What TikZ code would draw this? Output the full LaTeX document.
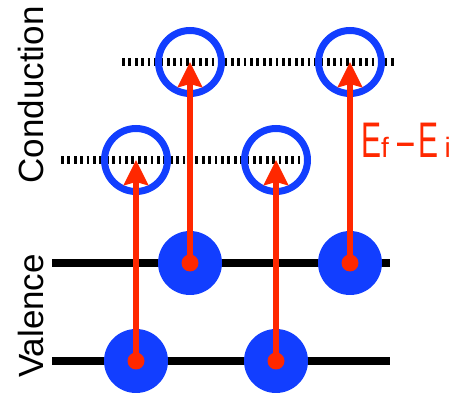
\documentclass[tikz,border=0pt]{standalone}
\usepackage{fontspec}
\setmainfont{Liberation Sans}
\newfontfamily\gapfont[FakeStretch=0.6]{Liberation Sans}
\usetikzlibrary{arrows.meta}
\definecolor{holeblue}{RGB}{18,62,255}
\definecolor{photonred}{RGB}{255,40,0}
\tikzset{
  band/.style={line width=8pt, black},
  level/.style={line width=8pt, black, dash pattern=on 2.7pt off 3.7pt},
  hole/.style={circle, draw=holeblue, line width=7pt, minimum size=63pt, inner sep=0pt},
  electron/.style={circle, fill=holeblue, minimum size=64pt, inner sep=0pt},
  origin/.style={circle, fill=photonred, minimum size=17pt, inner sep=0pt},
  excite/.style={photonred, line width=6pt, -{Stealth[length=25pt,width=24pt,inset=3pt]}},
  axislabel/.style={font=\fontsize{35}{35}\selectfont, rotate=90, anchor=base, inner sep=0pt}
}
\begin{document}
\begin{tikzpicture}[x=1pt,y=1pt]
\useasboundingbox (0,0) rectangle (475,394);

% valence band levels
\coordinate (v1a) at (52,131);  \coordinate (v1b) at (390,131);
\coordinate (v2a) at (52,33);   \coordinate (v2b) at (390,33);
\draw[band] (v1a) -- (v1b);
\draw[band] (v2a) -- (v2b);

% conduction band levels
\coordinate (c1a) at (122,332); \coordinate (c1b) at (397,332);
\coordinate (c2a) at (61,234);  \coordinate (c2b) at (300,234);
\draw[level] (c1a) -- (c1b);
\draw[level] (c2a) -- (c2b);

% empty states in the conduction band
\node[hole] (hA) at (136,234) {};
\node[hole] (hB) at (190,332) {};
\node[hole] (hC) at (276,234) {};
\node[hole] (hD) at (350,332) {};

% filled states in the valence band
\node[electron] (eA) at (136,33) {};
\node[electron] (eB) at (190,131) {};
\node[electron] (eC) at (276,33) {};
\node[electron] (eD) at (350,131) {};

% transition start points
\node[origin] (oA) at (eA.center) {};
\node[origin] (oB) at (eB.center) {};
\node[origin] (oC) at (eC.center) {};
\node[origin] (oD) at (eD.center) {};

% excitations
\draw[excite] (oA.center) -- (hA.center);
\draw[excite] (oB.center) -- (hB.center);
\draw[excite] (oC.center) -- (hC.center);
\draw[excite] (oD.center) -- (hD.center);

% energy gap label
\node[anchor=base west, inner sep=0pt, text=photonred] (gap) at (361,236)
  {{\gapfont\fontsize{50}{50}\selectfont E}{\fontsize{28}{28}\selectfont f}\kern9pt
   {\gapfont\fontsize{50}{50}\selectfont \char"2013\kern4pt E}\kern6pt{\fontsize{28}{28}\selectfont i}};

% band names
\node[axislabel] (cond) at (43,299) {Conduction};
\node[axislabel] (val) at (43,78) {Valence};
\end{tikzpicture}
\end{document}
